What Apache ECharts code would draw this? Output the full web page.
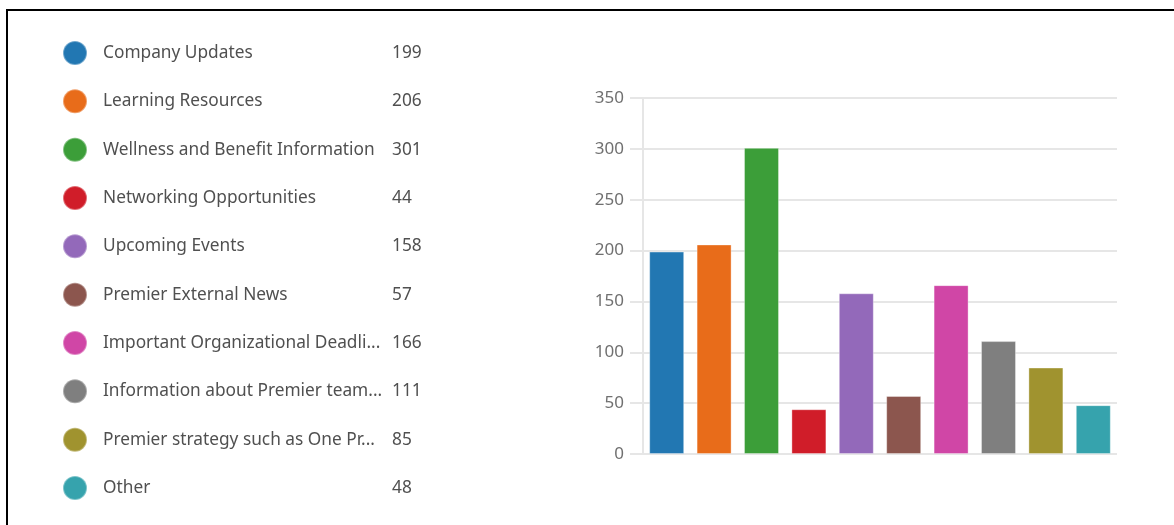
<!DOCTYPE html>
<html>
<head>
<meta charset="utf-8">
<script src="https://cdn.jsdelivr.net/npm/echarts@6/dist/echarts.min.js"></script>
<style>
html,body{margin:0;padding:0;background:#fff;overflow:hidden;}
#frame{position:absolute;left:6px;top:9px;width:1300px;height:700px;border:2px solid #000;box-sizing:border-box;}
#chart{position:absolute;left:0;top:0;width:1174px;height:525px;}
</style>
</head>
<body>
<div id="frame"></div>
<div id="chart"></div>
<script>
const categories = [
  "Company Updates",
  "Learning Resources",
  "Wellness and Benefit Information",
  "Networking Opportunities",
  "Upcoming Events",
  "Premier External News",
  "Important Organizational Deadli...",
  "Information about Premier team...",
  "Premier strategy such as One Pr...",
  "Other"
];
const counts = [199, 206, 301, 44, 158, 57, 166, 111, 85, 48];
const colors = ["#2277b2", "#e86c1a", "#3c9e39", "#d01d29", "#9369ba", "#8c564e", "#d046a6", "#7f7f7f", "#a0932f", "#36a3ad"];
const yTicks = { min: 0, max: 350, interval: 50 };

const FONT = "'Noto Sans', 'Open Sans', sans-serif";
const chart = echarts.init(document.getElementById('chart'), null, { renderer: 'canvas' });

const series = categories.map((name, i) => ({
  name: name,
  type: 'bar',
  stack: 'all',
  barWidth: 35,
  itemStyle: { color: colors[i], borderColor: 'rgba(255,255,255,0.35)', borderWidth: 1 },
  emphasis: { disabled: true },
  data: categories.map((c, j) => (j === i ? counts[i] : '-'))
}));

chart.setOption({
  animation: false,
  backgroundColor: 'transparent',
  legend: {
    orient: 'vertical',
    left: 62,
    top: 40,
    height: 480,
    padding: 0,
    icon: 'circle',
    itemWidth: 24,
    itemHeight: 24,
    itemGap: 22.33,
    selectedMode: false,
    data: categories,
    formatter: function (name) {
      const i = categories.indexOf(name);
      return '{n|' + name + '}{v|' + counts[i] + '}';
    },
    textStyle: {
      fontFamily: FONT,
      fontSize: 17.3,
      color: '#505050',
      lineHeight: 22,
      rich: {
        n: { fontFamily: FONT, fontSize: 17.3, color: '#505050', width: 289, padding: [0, 0, 0, 11], lineHeight: 22 },
        v: { fontFamily: FONT, fontSize: 17.3, color: '#505050', lineHeight: 22 }
      }
    }
  },
  grid: { left: 643, right: 57, top: 98, bottom: 71, containLabel: false },
  xAxis: {
    type: 'category',
    data: categories,
    boundaryGap: true,
    axisLine: { show: false },
    axisTick: { show: false },
    axisLabel: { show: false },
    splitLine: { show: false }
  },
  yAxis: {
    type: 'value',
    min: yTicks.min,
    max: yTicks.max,
    interval: yTicks.interval,
    axisLine: { show: true, lineStyle: { color: '#e6e6e6', width: 2 } },
    axisTick: { show: true, length: 13, lineStyle: { color: '#e6e6e6', width: 2 } },
    axisLabel: { margin: 19, fontFamily: FONT, fontSize: 17, color: '#707070' },
    splitLine: { show: true, lineStyle: { color: '#e6e6e6', width: 2 } }
  },
  series: series
});
</script>
</body>
</html>
